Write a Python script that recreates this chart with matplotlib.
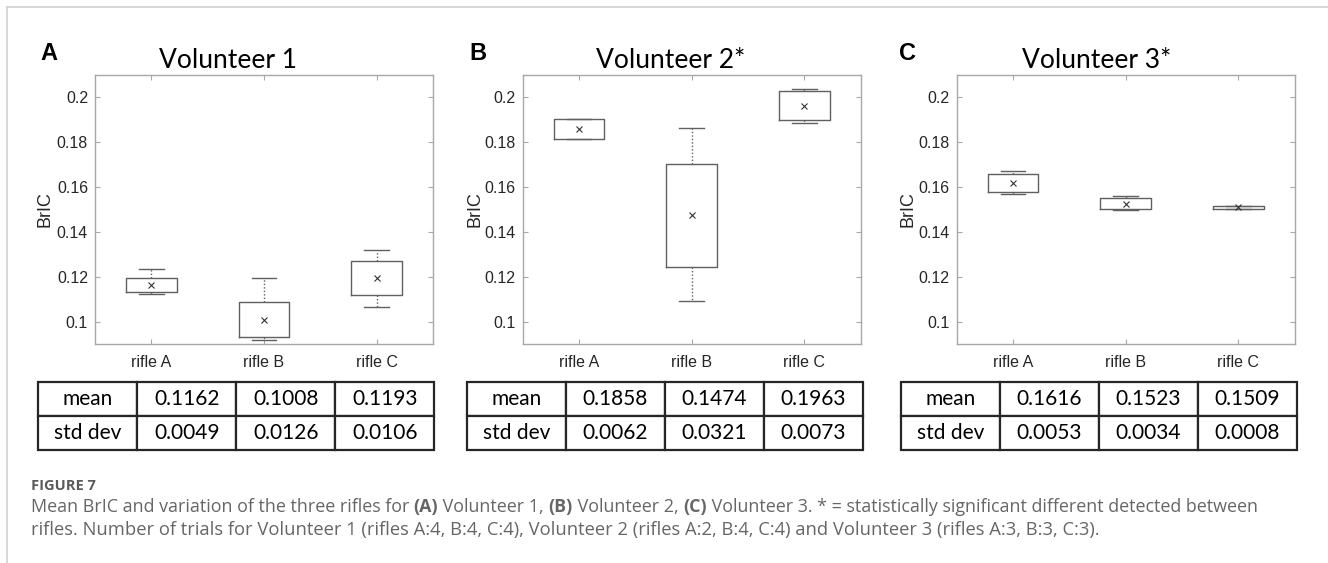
import matplotlib
matplotlib.use("Agg")
import matplotlib.pyplot as plt
from matplotlib.lines import Line2D
from matplotlib.offsetbox import TextArea, HPacker, AnchoredOffsetbox
import matplotlib.ticker as mticker

# ---------------- data ----------------
rifles = ["rifle A", "rifle B", "rifle C"]
titles = ["Volunteer 1", "Volunteer 2*", "Volunteer 3*"]
panel_letters = ["A", "B", "C"]

v1_q1 = [0.1133, 0.0931, 0.1120]
v1_q3 = [0.1193, 0.1089, 0.1270]
v1_lo = [0.1124, 0.0917, 0.1065]
v1_hi = [0.1234, 0.1193, 0.1319]
v1_mean = [0.1162, 0.1008, 0.1193]
v1_std = [0.0049, 0.0126, 0.0106]

v2_q1 = [0.1816, 0.1244, 0.1901]
v2_q3 = [0.1904, 0.1705, 0.2027]
v2_lo = [0.1816, 0.1091, 0.1888]
v2_hi = [0.1904, 0.1862, 0.2037]
v2_mean = [0.1858, 0.1474, 0.1963]
v2_std = [0.0062, 0.0321, 0.0073]

v3_q1 = [0.1580, 0.1501, 0.1504]
v3_q3 = [0.1658, 0.1550, 0.1517]
v3_lo = [0.1569, 0.1498, 0.1502]
v3_hi = [0.1673, 0.1560, 0.1516]
v3_mean = [0.1616, 0.1523, 0.1509]
v3_std = [0.0053, 0.0034, 0.0008]

yticks = [0.1, 0.12, 0.14, 0.16, 0.18, 0.2]
row_labels = ["mean", "std dev"]

caption_title = "FIGURE 7"
caption_parts = [("Mean BrIC and variation of the three rifles for ", "normal"),
                 ("(A)", "bold"),
                 (" Volunteer 1, ", "normal"),
                 ("(B)", "bold"),
                 (" Volunteer 2, ", "normal"),
                 ("(C)", "bold"),
                 (" Volunteer 3. * = statistically significant different detected between", "normal")]
caption_line2 = ("rifles. Number of trials for Volunteer 1 (rifles A:4, B:4, C:4), "
                 "Volunteer 2 (rifles A:2, B:4, C:4) and Volunteer 3 (rifles A:3, B:3, C:3).")

panels = [
    (v1_q1, v1_q3, v1_lo, v1_hi, v1_mean, v1_std),
    (v2_q1, v2_q3, v2_lo, v2_hi, v2_mean, v2_std),
    (v3_q1, v3_q3, v3_lo, v3_hi, v3_mean, v3_std),
]

# ---------------- layout ----------------
W, H = 1328, 563
fig = plt.figure(figsize=(W / 100, H / 100), dpi=100)

def fx(px):
    return px / W

def fy(py):
    return 1 - py / H

axes_left = [95, 522.7, 956.7]
axes_w = 338
axes_top, axes_bot = 75, 344
title_cx = [228, 670.5, 1097]
letter_x = [40, 469.3, 899]
ylab_x = [45, 475, 908.3]
table_left = [38.3, 466.7, 900.7]
table_w = 396
table_top, table_bot = 381.7, 450

# outer frame lines
fig.add_artist(Line2D([fx(6.7), 1], [fy(7.3), fy(7.3)], transform=fig.transFigure,
                      color="#d4d4d4", lw=1.3))
fig.add_artist(Line2D([fx(6.7), fx(6.7)], [0, fy(7.3)], transform=fig.transFigure,
                      color="#d4d4d4", lw=1.3))

box_col = "#606060"
spine_col = "#a8a8a8"

for i, (q1, q3, lo, hi, mn, sd) in enumerate(panels):
    ax = fig.add_axes([fx(axes_left[i]), fy(axes_bot), fx(axes_w),
                       (axes_bot - axes_top) / H])
    stats = []
    for k in range(3):
        stats.append(dict(med=mn[k], q1=q1[k], q3=q3[k], whislo=lo[k],
                          whishi=hi[k], mean=mn[k], fliers=[], label=rifles[k]))
    ax.bxp(stats, positions=[1, 2, 3], widths=0.45, capwidths=0.22,
           showmeans=True, showfliers=False,
           boxprops=dict(color=box_col, lw=1.0),
           whiskerprops=dict(color=box_col, lw=1.0, linestyle=(0, (1, 1.5))),
           capprops=dict(color=box_col, lw=1.0),
           medianprops=dict(linestyle="none", lw=0),
           meanprops=dict(marker="x", markeredgecolor="#333333",
                          markersize=4, markeredgewidth=0.8))
    ax.set_xlim(0.5, 3.5)
    ax.set_ylim(0.09, 0.21)
    ax.set_yticks(yticks)
    ax.yaxis.set_major_formatter(mticker.FormatStrFormatter("%g"))
    ax.set_xticks([1, 2, 3])
    ax.set_xticklabels(rifles)
    for s in ax.spines.values():
        s.set_color(spine_col)
        s.set_linewidth(1.0)
    ax.tick_params(direction="in", length=3.5, width=0.8, color=spine_col,
                   top=True, right=True, labelsize=11.5, labelcolor="#262626")
    ax.tick_params(axis="y", pad=5)
    ax.tick_params(axis="x", pad=8)
    for lab in ax.get_xticklabels() + ax.get_yticklabels():
        lab.set_fontfamily("Liberation Sans")
    ax.set_ylabel("BrIC", fontsize=13, family="Liberation Sans", color="#262626",
                  va="center")
    ax.yaxis.set_label_coords((ylab_x[i] - axes_left[i]) / axes_w, 0.5)

    # title and panel letter
    fig.text(fx(title_cx[i]), fy(68.3), titles[i], ha="center", va="baseline",
             fontsize=19, family="Lato", color="black")
    fig.text(fx(letter_x[i]), fy(60), panel_letters[i], ha="left", va="baseline",
             fontsize=17, family="Liberation Sans", weight="bold", color="black")

    # table
    tax = fig.add_axes([fx(table_left[i]), fy(table_bot), fx(table_w),
                        (table_bot - table_top) / H])
    tax.axis("off")
    cells = [[row_labels[0]] + [f"{v:.4f}" for v in mn],
             [row_labels[1]] + [f"{v:.4f}" for v in sd]]
    tb = tax.table(cellText=cells, cellLoc="center", bbox=[0, 0, 1, 1])
    tb.auto_set_font_size(False)
    for (r, c), cell in tb.get_celld().items():
        cell.set_edgecolor("#262626")
        cell.set_linewidth(1.6)
        t = cell.get_text()
        t.set_fontsize(15)
        t.set_fontfamily("Lato")
        t.set_color("black")

# ---------------- caption ----------------
cap_col = "#666666"
cap_font = "Open Sans"
fig.text(fx(30.7), fy(490), caption_title, ha="left", va="baseline", fontsize=10.5,
         family=cap_font, weight="bold", color="#5a5a5a")


def build_caption(fs):
    areas = [TextArea(s, textprops=dict(fontsize=fs, family=cap_font, weight=w,
                                        color=cap_col)) for s, w in caption_parts]
    box = HPacker(children=areas, align="baseline", pad=0, sep=0)
    anch = AnchoredOffsetbox(loc="lower left", child=box, pad=0, borderpad=0,
                             frameon=False, bbox_to_anchor=(fx(30.7), fy(516)),
                             bbox_transform=fig.transFigure)
    fig.add_artist(anch)
    return anch


renderer = fig.canvas.get_renderer()
target_w1 = 1255 - 30.7
fs = 12.0
anch = build_caption(fs)
fig.canvas.draw()
w = anch.get_window_extent(renderer).width
anch.remove()
fs1 = fs * target_w1 / w
anch = build_caption(fs1)

target_w2 = 1123 - 30.7
t2 = fig.text(fx(30.7), fy(535), caption_line2, ha="left", va="baseline", fontsize=fs1,
              family=cap_font, color=cap_col)
fig.canvas.draw()
w2 = t2.get_window_extent(renderer).width
fs2 = 0.5 * (fs1 + fs1 * target_w2 / w2)
t2.set_fontsize(fs2)

fig.savefig("out.png", dpi=100)
